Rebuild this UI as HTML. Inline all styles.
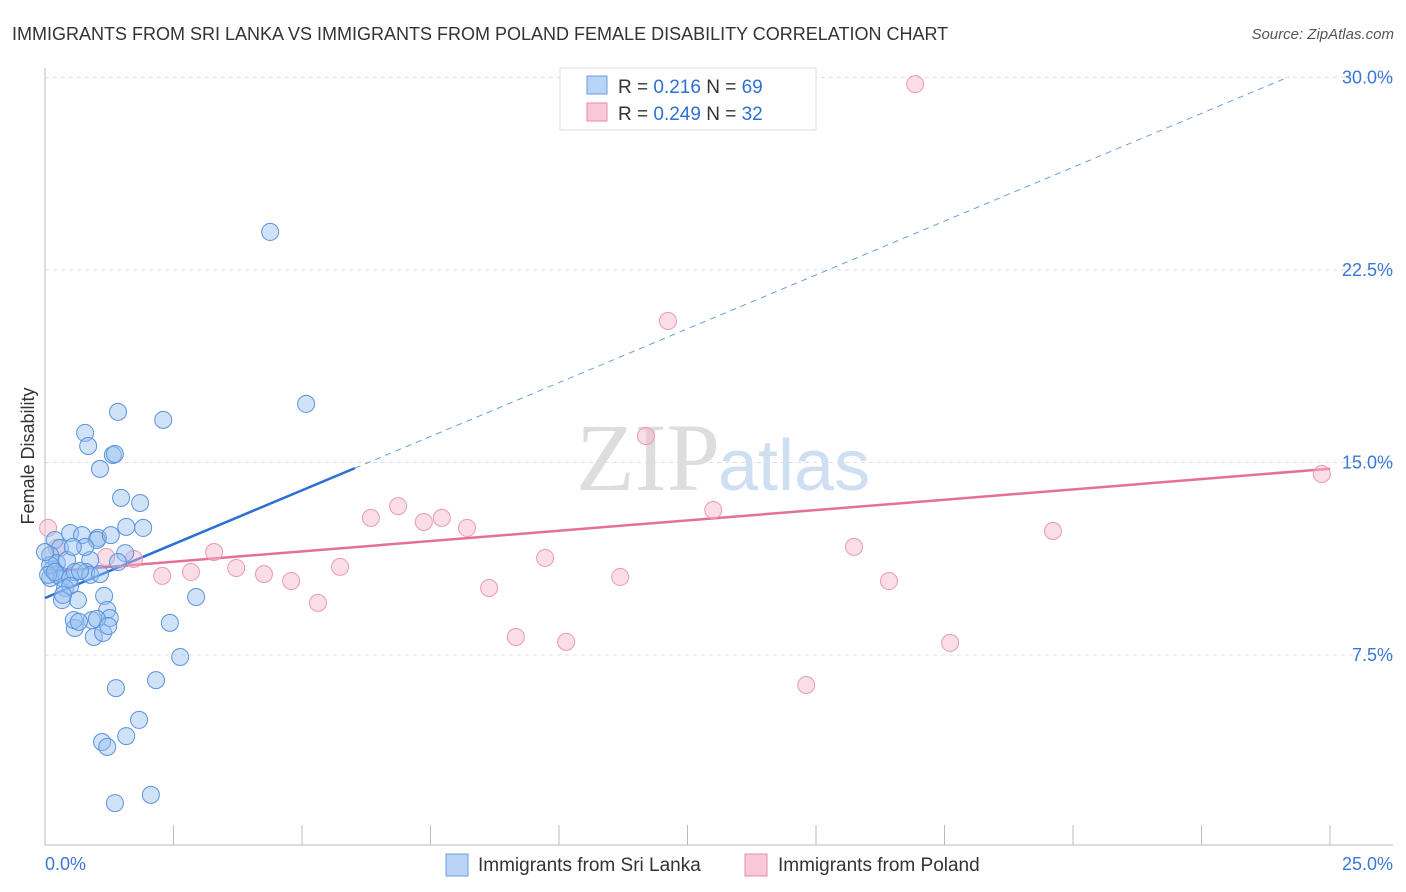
<!DOCTYPE html>
<html><head><meta charset="utf-8"><style>
body{margin:0;background:#fff;font-family:"Liberation Sans",sans-serif}
svg{display:block}
</style></head><body>
<svg id="c" width="1406" height="892">
<text x="12" y="40" font-size="18" fill="#333">IMMIGRANTS FROM SRI LANKA VS IMMIGRANTS FROM POLAND FEMALE DISABILITY CORRELATION CHART</text>
<text x="1394" y="39" font-size="15" fill="#555" font-style="italic" text-anchor="end">Source: ZipAtlas.com</text>
<text x="720" y="490" font-size="96" fill="#ddd" text-anchor="end" font-family="Liberation Serif">ZIP</text>
<text x="718" y="490" font-size="72" fill="#cfdff2">atlas</text>
<text x="34" y="456" font-size="18" fill="#333" text-anchor="middle" transform="rotate(-90 34 456)">Female Disability</text>
<g id="grid"></g><g id="axes"></g><g id="trend"></g><g id="pts"></g>
<g>
<rect x="560" y="68" width="256" height="62" fill="#fff" stroke="#ddd"/>
<rect x="587" y="76" width="20" height="18" fill="#b9d3f5" stroke="#6a9de0"/>
<rect x="587" y="103" width="20" height="18" fill="#f9c8d6" stroke="#e98aa8"/>
<text x="618" y="93" font-size="19" fill="#333">R = <tspan fill="#2d6fd6">0.216</tspan>   N = <tspan fill="#2d6fd6">69</tspan></text>
<text x="618" y="120" font-size="19" fill="#333">R = <tspan fill="#2d6fd6">0.249</tspan>   N = <tspan fill="#2d6fd6">32</tspan></text>
</g>
<g>
<rect x="446" y="854" width="22" height="22" fill="#b9d3f5" stroke="#6a9de0"/>
<text x="478" y="871" font-size="19" fill="#333">Immigrants from Sri Lanka</text>
<rect x="745" y="854" width="22" height="22" fill="#f9c8d6" stroke="#e98aa8"/>
<text x="778" y="871" font-size="19" fill="#333">Immigrants from Poland</text>
</g>
</svg>
<script>
const yTicks=[7.5,15,22.5,30];
const yTickLabels=["7.5%","15.0%","22.5%","30.0%"];
const xTickCount=10;
const blueX=[4.38,5.08,1.42,2.30,0.78,0.84,1.32,1.36,1.07,1.48,1.85,1.58,1.91,1.03,1.56,0.19,0.49,0.72,0.29,0.10,0.23,0.43,0.88,1.42,0.14,0.23,0.10,0.33,0.49,0.58,0.80,0.88,0.68,0.39,0.49,0.64,0.33,0.35,1.15,1.21,1.26,0.91,1.01,0.58,0.56,0.66,0.95,1.13,1.23,2.43,2.94,2.63,2.16,1.38,1.83,1.58,1.11,1.21,1.36,2.06,0.10,0.06,1.01,1.28,0.78,0.54,0.00,0.19,1.07];
const blueY=[23.98,17.28,16.97,16.66,16.15,15.64,15.29,15.33,14.75,13.62,13.42,12.49,12.45,12.06,11.47,11.98,12.25,12.17,11.67,11.39,11.08,11.20,11.20,11.12,10.83,10.62,10.50,10.50,10.50,10.73,10.73,10.62,10.77,10.11,10.19,9.64,9.64,9.84,9.80,9.25,8.94,8.86,8.90,8.55,8.86,8.79,8.20,8.36,8.63,8.75,9.76,7.42,6.52,6.21,4.97,4.34,4.11,3.92,1.73,2.05,11.00,10.62,11.98,12.17,11.71,11.71,11.51,10.73,10.65];
const pinkX=[16.93,12.12,11.69,24.84,13.00,6.87,6.34,7.37,7.72,8.21,19.61,9.73,15.74,3.29,1.73,1.19,3.72,4.26,4.79,5.74,2.28,2.84,11.19,16.42,8.64,5.31,9.16,10.14,17.61,14.81,0.06,0.23];
const pinkY=[29.74,20.51,16.03,14.55,13.15,13.30,12.84,12.68,12.84,12.45,12.33,11.28,11.71,11.51,11.24,11.32,10.89,10.65,10.38,10.93,10.58,10.73,10.54,10.38,10.11,9.53,8.20,8.01,7.97,6.33,12.45,11.67];
const blueTrend=[9.72,0.839];
const pinkTrend=[10.73,0.161];
const NS="http://www.w3.org/2000/svg";
const sx=v=>45+v*51.4, sy=v=>847.5-v*25.67;
function mk(p,t,a){const e=document.createElementNS(NS,t);for(const k in a)e.setAttribute(k,a[k]);document.getElementById(p).appendChild(e);return e;}
yTicks.forEach((t,i)=>{
 const g=mk('grid','line',{x1:45,x2:1393,y1:sy(t),y2:sy(t),stroke:'#dde',"stroke-dasharray":'4,4'});
 
 
 const l=mk('grid','text',{x:1393,y:sy(t)+6,"font-size":18,fill:'#3a78d8',"text-anchor":'end'});
 l.textContent=yTickLabels[i];
 
 
});
const ax=mk('axes','path',{d:'M45,68V845H1393',stroke:'#bbb',fill:'none'});


for(let i=1;i<=xTickCount;i++){const x=sx(i*2.5);const t=mk('axes','line',{x1:x,x2:x,y1:825,y2:845,stroke:'#bbb'});
 
 }
const x0=mk('axes','text',{x:45,y:870,"font-size":18,fill:'#3a78d8'});x0.textContent='0.0%';


const x1=mk('axes','text',{x:1393,y:870,"font-size":18,fill:'#3a78d8',"text-anchor":'end'});x1.textContent='25.0%';


const be=6.03, bd=24.2;
const bl=mk('trend','line',{x1:sx(0),y1:sy(blueTrend[0]),x2:sx(be),y2:sy(blueTrend[0]+blueTrend[1]*be),stroke:'#2a6fd6',"stroke-width":2.5});


const bdl=mk('trend','line',{x1:sx(be),y1:sy(blueTrend[0]+blueTrend[1]*be),x2:sx(bd),y2:sy(blueTrend[0]+blueTrend[1]*bd),stroke:'#6a9de0',"stroke-width":1,"stroke-dasharray":'6,5'});


const pl=mk('trend','line',{x1:sx(0),y1:sy(pinkTrend[0]),x2:sx(25),y2:sy(pinkTrend[0]+pinkTrend[1]*25),stroke:'#e4709a',"stroke-width":2.5});


pinkX.forEach((x,i)=>{const c=mk('pts','circle',{cx:sx(x),cy:sy(pinkY[i]),r:8.5,fill:'rgba(246,180,200,0.45)',stroke:'#eb9ab4',"stroke-width":1});
 
 });
blueX.forEach((x,i)=>{const c=mk('pts','circle',{cx:sx(x),cy:sy(blueY[i]),r:8.5,fill:'rgba(150,190,240,0.45)',stroke:'#5a93de',"stroke-width":1});
 
 });
</script>
</body></html>
